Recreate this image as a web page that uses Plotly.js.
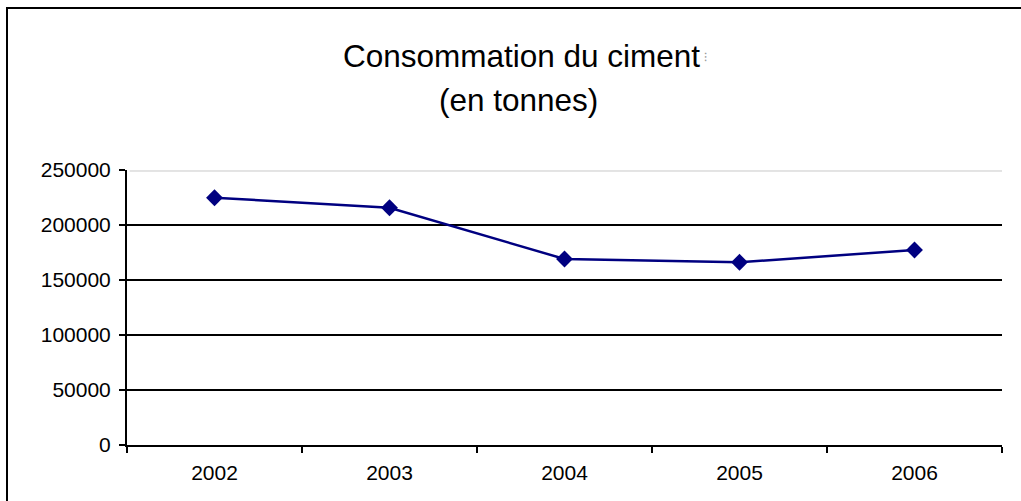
<!DOCTYPE html>
<html>
<head>
<meta charset="utf-8">
<script src="https://cdn.plot.ly/plotly-3.0.1.min.js"></script>
<style>html,body{margin:0;padding:0;background:#fff;}#chart{width:1021px;height:501px;}</style>
</head>
<body>
<div id="chart"></div>
<script>
const years = ["2002", "2003", "2004", "2005", "2006"];
const consommation = [224800, 215700, 169100, 166100, 177300];
const yTicks = [0, 50000, 100000, 150000, 200000, 250000];
const titleLine1 = "Consommation du ciment";
const titleLine2 = "(en tonnes)";

const trace = {
  x: years,
  y: consommation,
  type: "scatter",
  mode: "lines+markers",
  line: {color: "#000080", width: 2.5},
  marker: {symbol: "diamond", size: 13, color: "#000080"},
  hoverinfo: "x+y"
};

const font = "Liberation Sans, Arial, sans-serif";

const layout = {
  width: 1021, height: 501,
  margin: {l: 127, r: 19, t: 170, b: 56, pad: 0},
  paper_bgcolor: "#ffffff",
  plot_bgcolor: "#ffffff",
  showlegend: false,
  font: {family: font, color: "#000000", size: 21},
  title: {
    text: titleLine1,
    font: {family: font, size: 31.5, color: "#000000"},
    x: 521.5 / 1021, xanchor: "center", xref: "container",
    y: 1 - 67 / 501, yanchor: "bottom", yref: "container"
  },
  annotations: [
    {text: titleLine2, xref: "paper", yref: "paper",
     x: (518.5 - 127) / 875, y: (445 - 120) / 275, xanchor: "center", yanchor: "bottom",
     showarrow: false, font: {family: font, size: 31.5, color: "#000000"}},
    {text: "\u205D", xref: "paper", yref: "paper",
     x: (705 - 127) / 875, y: (445 - 57) / 275, xanchor: "center", yanchor: "middle",
     showarrow: false, font: {family: font, size: 12, color: "#9a9a9a"}}
  ],
  xaxis: {
    type: "category",
    range: [-0.5, 4.5],
    tickson: "boundaries",
    ticks: "outside", ticklen: 6, tickwidth: 2, tickcolor: "#000",
    showline: true, linecolor: "#000", linewidth: 2,
    showgrid: false, zeroline: false,
    tickfont: {family: font, size: 21, color: "#000"},
    ticklabelstandoff: 8
  },
  yaxis: {
    range: [0, 250000],
    tickvals: yTicks,
    ticktext: yTicks.map(String),
    ticks: "outside", ticklen: 6, tickwidth: 2, tickcolor: "#000",
    showline: true, linecolor: "#000", linewidth: 2,
    showgrid: true, gridcolor: "#000", gridwidth: 2,
    zeroline: false,
    tickfont: {family: font, size: 21, color: "#000"},
    ticklabelstandoff: 4
  },
  shapes: [
    {type: "rect", xref: "paper", yref: "y", x0: 0.003, x1: 1, y0: 248500, y1: 252500,
     fillcolor: "#ffffff", line: {width: 0}, layer: "above"},
    {type: "line", xref: "paper", yref: "y", x0: 0.003, x1: 1, y0: 251500, y1: 251500,
     line: {color: "#c8c8c8", width: 1}, layer: "above"},
    {type: "line", xref: "paper", yref: "y", x0: 0.003, x1: 1, y0: 249100, y1: 249100,
     line: {color: "#c8c8c8", width: 1}, layer: "above"},
    {type: "path", xref: "paper", yref: "paper",
     path: "M " + ((7 - 127) / 875) + " " + ((445 - 520) / 275) + " L " + ((7 - 127) / 875) + " " + ((445 - 8) / 275) + " L " + ((1030 - 127) / 875) + " " + ((445 - 8) / 275),
     line: {color: "#000", width: 2}, layer: "above"}
  ]
};

Plotly.newPlot("chart", [trace], layout, {displayModeBar: false, staticPlot: true});
</script>
</body>
</html>
